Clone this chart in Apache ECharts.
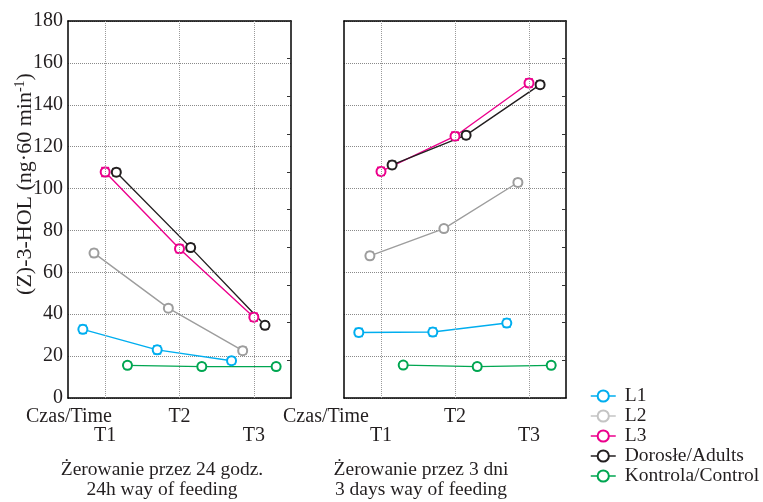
<!DOCTYPE html>
<html><head><meta charset="utf-8">
<script src="https://cdn.jsdelivr.net/npm/echarts@6/dist/echarts.min.js"></script>
<style>html,body{margin:0;padding:0;background:#fff}#c{width:763px;height:502px}</style>
</head><body><div id="c"></div>
<script>
// ---- data ----
const times = ['T1', 'T2', 'T3'];
const timeAxisTitle = 'Czas/Time';
const seriesNames = ['L1', 'L2', 'L3', 'Dorosłe/Adults', 'Kontrola/Control'];
const yTicks = [0, 20, 40, 60, 80, 100, 120, 140, 160, 180];
const panelTitles = [['Żerowanie przez 24 godz.', '24h way of feeding'], ['Żerowanie przez 3 dni', '3 days way of feeding']];
// panel A: 24h way of feeding
const a_L1 = [32.8, 23.0, 17.8];
const a_L2 = [69.2, 42.9, 22.6];
const a_L3 = [107.9, 71.3, 38.6];
const a_AD = [107.8, 71.8, 34.7];
const a_KO = [15.6, 15.0, 15.0];
// panel B: 3 days way of feeding
const b_L1 = [31.3, 31.5, 35.8];
const b_L2 = [67.9, 80.9, 102.9];
const b_L3 = [108.2, 125.0, 150.4];
const b_AD = [111.3, 125.5, 149.6];
const b_KO = [15.7, 15.0, 15.6];
// error (half-width of error bars)
const a_ERR = [[1.8, 1.8, 1.6], [1.6, 1.4, 1.6], [2.0, 1.8, 1.8], [1.6, 1.6, 1.6], [1.4, 1.4, 1.4]];
const b_ERR = [[1.8, 1.8, 1.8], [1.6, 1.4, 1.6], [1.8, 1.8, 1.8], [1.6, 1.6, 1.6], [1.4, 1.4, 1.4]];

// ---- styles ----
const colors = ['#00AEEF', '#9D9D9D', '#EC008C', '#231F20', '#00A651'];
const legendColors = ['#00AEEF', '#C4C4C4', '#EC008C', '#231F20', '#00A651'];
const offsets = [-0.3, -0.15, 0, 0.15, 0.3];
const FONT = 'Liberation Serif';
const TXT = '#231F20';

const panelA = [a_L1, a_L2, a_L3, a_AD, a_KO];
const panelB = [b_L1, b_L2, b_L3, b_AD, b_KO];

const series = [];
[panelA, panelB].forEach((panel, gi) => {
  const errs = gi === 0 ? a_ERR : b_ERR;
  panel.forEach((vals, si) => {
    const pts = vals.map((v, ti) => [ti + 1 + offsets[si], v]);
    series.push({
      type: 'custom', name: 'err' + gi + si, xAxisIndex: gi * 2, yAxisIndex: gi * 2, z: 3, silent: true,
      data: vals.map((v, ti) => [ti + 1 + offsets[si], v - errs[si][ti], v + errs[si][ti]]),
      renderItem: function (params, api) {
        const lo = api.coord([api.value(0), api.value(1)]);
        const hi = api.coord([api.value(0), api.value(2)]);
        const w = 4;
        const st = { stroke: colors[si], lineWidth: 2 };
        return { type: 'group', children: [
          { type: 'line', shape: { x1: lo[0], y1: lo[1], x2: hi[0], y2: hi[1] }, style: st },
          { type: 'line', shape: { x1: lo[0] - w, y1: lo[1], x2: lo[0] + w, y2: lo[1] }, style: st },
          { type: 'line', shape: { x1: hi[0] - w, y1: hi[1], x2: hi[0] + w, y2: hi[1] }, style: st }
        ]};
      }
    });
    const s = {
      type: 'line', name: seriesNames[si], xAxisIndex: gi * 2, yAxisIndex: gi * 2, z: 4,
      data: pts, symbol: 'emptyCircle', symbolSize: 9, showAllSymbol: true,
      lineStyle: { color: colors[si], width: 1.4 },
      itemStyle: { color: colors[si], borderColor: colors[si], borderWidth: 2.4 },
      emphasis: { disabled: true }, animation: false
    };
    if (si === 0) {
      s.markLine = {
        silent: true, symbol: 'none', animation: false, label: { show: false },
        lineStyle: { color: '#9a9a9a', type: 'dotted', width: 1 },
        data: times.map((t, i) => ({ xAxis: i + 1 }))
      };
    }
    series.push(s);
  });
});

const grids = [
  { left: 68, top: 21, width: 223, height: 377, containLabel: false, outerBoundsMode: 'none' },
  { left: 344, top: 21, width: 222, height: 377, containLabel: false, outerBoundsMode: 'none' }
];
const labelMap = { 1: '\n' + times[0], 2: times[1], 3: '\n' + times[2] };

const xAxes = [], yAxes = [];
grids.forEach((g, gi) => {
  xAxes.push({
    type: 'value', gridIndex: gi, min: 0.5, max: 3.5, position: 'bottom',
    axisLine: { show: true, lineStyle: { color: '#000', width: 1.5 } },
    axisTick: { show: false }, splitLine: { show: false },
    axisLabel: { show: true, customValues: [1, 2, 3], hideOverlap: false,
      formatter: v => labelMap[v] || '',
      color: TXT, fontFamily: FONT, fontSize: 20, lineHeight: 19, margin: 9 }
  });
  xAxes.push({
    type: 'value', gridIndex: gi, min: 0.5, max: 3.5, position: 'top',
    axisLine: { show: true, onZero: false, lineStyle: { color: '#000', width: 1.5 } },
    axisTick: { show: false }, splitLine: { show: false }, axisLabel: { show: false }
  });
  yAxes.push({
    type: 'value', gridIndex: gi, min: 0, max: 180, interval: 20, position: 'left',
    axisLine: { show: true, lineStyle: { color: '#000', width: 1.5 } },
    axisTick: { show: false },
    splitLine: { show: true, lineStyle: { color: '#8a8a8a', type: 'dotted', width: 1 } },
    axisLabel: { show: gi === 0, color: TXT, fontFamily: FONT, fontSize: 20, margin: 5,
      formatter: v => yTicks.includes(v) ? String(v) : '' }
  });
  yAxes.push({
    type: 'value', gridIndex: gi, min: 0, max: 200, interval: 20, position: 'right',
    axisLine: { show: true, lineStyle: { color: '#000', width: 1.5 } },
    axisTick: { show: true, inside: true, length: 4, lineStyle: { color: '#333', width: 1 } },
    splitLine: { show: false }, axisLabel: { show: false }
  });
});

const textStyleBase = { fill: TXT, font: '19.5px "Liberation Serif"', align: 'center', verticalAlign: 'middle' };
const graphics = [
  { type: 'text', x: 25, y: 184, rotation: Math.PI / 2, style: {
    text: '(Z)-3-HOL (ng·60 min{s|-1})', fill: TXT, font: '22px "Liberation Serif"',
    align: 'center', verticalAlign: 'middle',
    rich: { s: { fontSize: 14, fontFamily: FONT, verticalAlign: 'top', padding: [0, 0, 10, 0] } } } },
  { type: 'text', x: 69, y: 416.5, style: Object.assign({ text: timeAxisTitle }, textStyleBase, { font: '20px "Liberation Serif"' }) },
  { type: 'text', x: 326, y: 416.5, style: Object.assign({ text: timeAxisTitle }, textStyleBase, { font: '20px "Liberation Serif"' }) }
];
[162, 421].forEach((cx, i) => {
  graphics.push({ type: 'text', x: cx, y: 470, style: Object.assign({ text: panelTitles[i][0] }, textStyleBase) });
  graphics.push({ type: 'text', x: cx, y: 490, style: Object.assign({ text: panelTitles[i][1] }, textStyleBase) });
});

const option = {
  backgroundColor: '#fff',
  animation: false,
  grid: grids,
  xAxis: xAxes,
  yAxis: yAxes,
  legend: {
    data: seriesNames.map((n, i) => ({ name: n,
      itemStyle: { color: legendColors[i], borderColor: legendColors[i], borderWidth: 1.5 },
      lineStyle: { color: legendColors[i], width: 1.5 } })),
    orient: 'vertical', left: 585, top: 381, itemWidth: 25, itemHeight: 14, itemGap: 0,
    selectedMode: false,
    textStyle: { color: TXT, fontFamily: FONT, fontSize: 19.5, lineHeight: 20, padding: [0, 0, 0, 4] }
  },
  graphic: graphics,
  series: series
};
echarts.init(document.getElementById('c'), null, { renderer: 'canvas' }).setOption(option);
</script></body></html>
